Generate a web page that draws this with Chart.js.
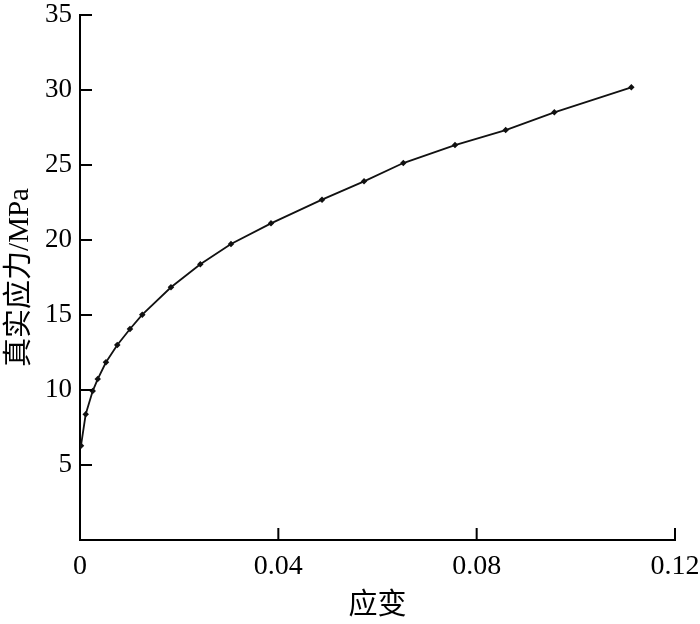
<!DOCTYPE html>
<html>
<head>
<meta charset="utf-8">
<script src="https://cdn.jsdelivr.net/npm/chart.js@4/dist/chart.umd.min.js"></script>
<style>
html,body{margin:0;padding:0;background:#fff;}
#wrap{width:700px;height:624px;position:relative;}
</style>
</head>
<body>
<div id="wrap"><canvas id="c" width="700" height="624"></canvas></div>
<script>
const strain = [0.0002, 0.00115, 0.00256, 0.00357, 0.00524, 0.00752, 0.01008, 0.01256, 0.01835, 0.02426, 0.03045, 0.03852, 0.04881, 0.05728, 0.0652, 0.07563, 0.08585, 0.09566, 0.11119];
const stress = [6.29, 8.38, 9.93, 10.73, 11.85, 13.0, 14.07, 15.02, 16.85, 18.38, 19.73, 21.11, 22.69, 23.91, 25.13, 26.33, 27.33, 28.51, 30.18];
const xTicks = [0, 0.04, 0.08, 0.12];
const yTicks = [0, 5, 10, 15, 20, 25, 30, 35];
const xTitle = '应变';
const yTitle = '真实应力/MPa';

const points = strain.map((x, i) => ({x: x, y: stress[i]}));
const FONT = "'Liberation Serif', 'Noto Sans CJK SC', serif";

const inwardTicks = {
  id: 'inwardTicks',
  afterDraw(chart) {
    const ctx = chart.ctx;
    const xs = chart.scales.x, ys = chart.scales.y;
    const a = chart.chartArea;
    ctx.save();
    ctx.strokeStyle = '#000';
    ctx.lineWidth = 2;
    ctx.beginPath();
    yTicks.forEach(v => {
      if (v === 0) return;
      const p = ys.getPixelForValue(v);
      ctx.moveTo(a.left, p); ctx.lineTo(a.left + 12, p);
    });
    xTicks.forEach(v => {
      if (v === 0) return;
      const p = xs.getPixelForValue(v);
      ctx.moveTo(p, a.bottom); ctx.lineTo(p, a.bottom - 12);
    });
    ctx.stroke();
    ctx.restore();
  }
};

new Chart(document.getElementById('c'), {
  type: 'scatter',
  data: {
    datasets: [{
      data: points,
      showLine: true,
      borderColor: '#111',
      backgroundColor: '#111',
      borderWidth: 1.8,
      pointRadius: 2,
      pointHoverRadius: 2,
      pointStyle: 'rectRot',
      tension: 0
    }]
  },
  options: {
    responsive: false,
    animation: false,
    layout: {padding: {left: 0, right: 25, top: 15, bottom: 0}},
    plugins: {legend: {display: false}, tooltip: {enabled: false}},
    scales: {
      x: {
        type: 'linear',
        min: 0, max: 0.12,
        afterBuildTicks: s => { s.ticks = xTicks.map(v => ({value: v})); },
        afterFit: s => { s.height = 84; s.paddingLeft = 0; s.paddingRight = 0; },
        grid: {display: true, drawOnChartArea: false, drawTicks: false},
        border: {display: true, color: '#000', width: 2},
        ticks: {
          color: '#000', padding: 10,
          font: {family: FONT, size: 28},
          maxRotation: 0,
          callback: v => (v === 0 ? '0' : String(+v.toFixed(2)))
        },
        title: {display: true, text: xTitle, color: '#000', padding: {top: 2, bottom: 0},
          font: {family: FONT, size: 29}}
      },
      y: {
        type: 'linear',
        min: 0, max: 35,
        afterBuildTicks: s => { s.ticks = yTicks.map(v => ({value: v})); },
        afterFit: s => { s.width = 80; s.paddingTop = 0; s.paddingBottom = 0; },
        grid: {display: true, drawOnChartArea: false, drawTicks: false},
        border: {display: true, color: '#000', width: 2},
        ticks: {
          color: '#000', padding: 8,
          font: {family: FONT, size: 27},
          callback: v => (v === 0 ? '' : String(v))
        },
        title: {display: true, text: yTitle, color: '#000', padding: {top: 3, bottom: 0},
          font: {family: FONT, size: 29}}
      }
    }
  },
  plugins: [inwardTicks]
});
</script>
</body>
</html>
